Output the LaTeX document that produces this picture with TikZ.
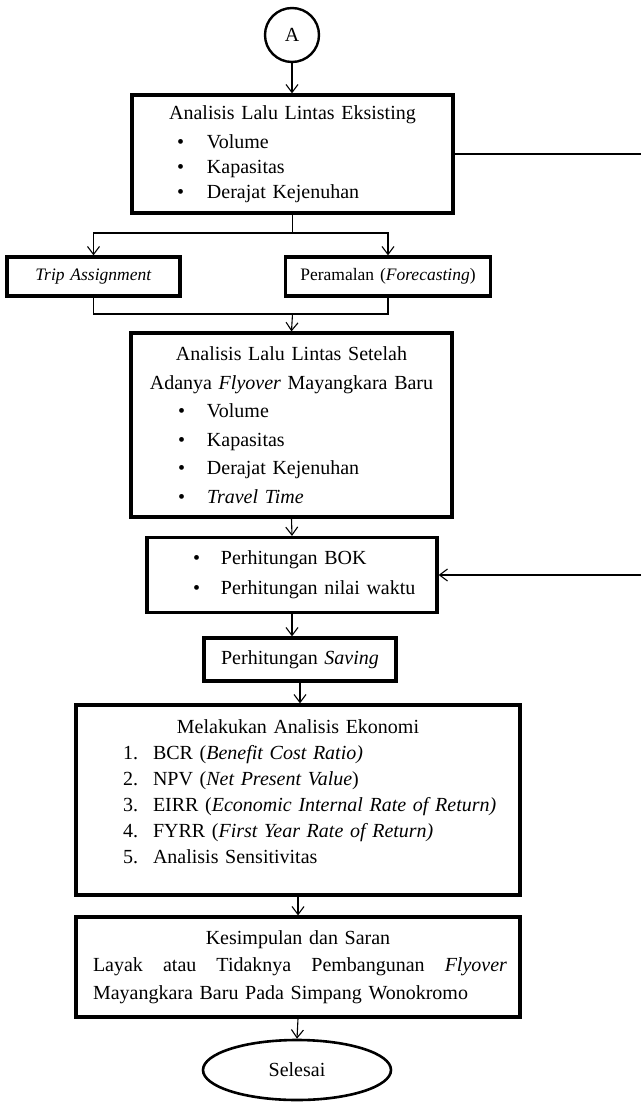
\documentclass[tikz,border=0pt]{standalone}
\usepackage{fontspec}
\setmainfont{Liberation Serif}
\usetikzlibrary{arrows.meta,shapes.geometric}
\newcommand{\bline}[3]{\makebox[\hsize][l]{\hspace*{#1}\makebox[#2][l]{\textbullet}#3}}
\newcommand{\nline}[4]{\makebox[\hsize][l]{\hspace*{#1}\makebox[#2][l]{#3}#4}}
\tikzset{
  box/.style={draw, line width=3.2pt, inner sep=0pt, align=center, font=\fontsize{20}{26}\selectfont},
  arr/.style={-{Straight Barb[length=8pt,width=12pt]}, line width=1.1pt},
  ln/.style={line width=1.1pt},
}
\begin{document}
\begin{tikzpicture}[x=1pt,y=-1pt]
\useasboundingbox (0,0) rectangle (641,1102);
\node[draw, circle, line width=2.4pt, minimum size=54pt, inner sep=0pt, font=\fontsize{20}{24}\selectfont] (A) at (292,35) {A};
\node[box, text width=321pt, minimum height=118pt, font=\fontsize{20}{25}\selectfont] (b1) at (292.5,154) {Analisis Lalu Lintas Eksisting\\[4pt]
\bline{45pt}{30pt}{Volume}\\
\bline{45pt}{30pt}{Kapasitas}\\
\bline{45pt}{30pt}{Derajat Kejenuhan}};
\node[box, text width=173pt, minimum height=39pt, font=\fontsize{17.5}{21}\selectfont] (trip) at (93.5,276.5) {\textit{Trip Assignment}};
\node[box, text width=205pt, minimum height=39pt, font=\fontsize{17.5}{21}\selectfont] (peram) at (388,276.5) {Peramalan (\textit{Forecasting})};
\node[box, text width=321pt, minimum height=184pt, font=\fontsize{20}{28.5}\selectfont] (b3) at (291.5,425) {Analisis Lalu Lintas Setelah\\
Adanya \textit{Flyover} Mayangkara Baru\\
\bline{47pt}{29pt}{Volume}\\
\bline{47pt}{29pt}{Kapasitas}\\
\bline{47pt}{29pt}{Derajat Kejenuhan}\\
\bline{47pt}{29pt}{\textit{Travel Time}}};
\node[box, text width=290pt, minimum height=75pt, font=\fontsize{20}{30}\selectfont] (b4) at (292,575) {\bline{46pt}{28pt}{Perhitungan BOK}\\
\bline{46pt}{28pt}{Perhitungan nilai waktu}};
\node[box, text width=192pt, minimum height=43pt] (b5) at (300,659.5) {Perhitungan \textit{Saving}};
\node[box, text width=444pt, minimum height=190pt, font=\fontsize{20}{26}\selectfont] (b6) at (298,800) {Melakukan Analisis Ekonomi\\
\nline{47pt}{30pt}{1.}{BCR (\textit{Benefit Cost Ratio)}}\\
\nline{47pt}{30pt}{2.}{NPV (\textit{Net Present Value})}\\
\nline{47pt}{30pt}{3.}{EIRR (\textit{Economic Internal Rate of Return)}}\\
\nline{47pt}{30pt}{4.}{FYRR (\textit{First Year Rate of Return)}}\\
\nline{47pt}{30pt}{5.}{Analisis Sensitivitas}\\[-10pt]\mbox{}};
\node[box, text width=444pt, minimum height=100pt, font=\fontsize{20}{27.5}\selectfont] (b7) at (298,967) {Kesimpulan dan Saran\\
\makebox[\hsize][l]{\hspace*{17pt}\hbox to 414pt{Layak\hfill atau\hfill Tidaknya\hfill Pembangunan\hfill\textit{Flyover}}}\\
\makebox[\hsize][l]{\hspace*{17pt}Mayangkara Baru Pada Simpang Wonokromo}};
\node[draw, ellipse, line width=2.6pt, minimum width=188pt, minimum height=60pt, inner sep=0pt, font=\fontsize{20}{24}\selectfont] (end) at (297,1070) {Selesai};
\coordinate (j1) at (292.5,233);
\coordinate (j2) at (292.5,314);
\coordinate (r) at (641,0);
\draw[arr] (A.south) -- (A.south |- b1.north);
\draw[ln] (b1.south) -- (j1);
\draw[arr] (j1) -| (trip.north);
\draw[arr] (j1) -| (peram.north);
\draw[ln] (trip.south) |- (j2);
\draw[ln] (peram.south) |- (j2);
\draw[arr] (j2) -- (b3.north);
\draw[ln] (b1.east) -- (b1.east -| r);
\draw[arr] (b4.east -| r) -- (b4.east);
\draw[arr] (b3.south) -- (b4.north);
\draw[arr] (b4.south) -- (b4.south |- b5.north);
\draw[arr] (b5.south) -- (b5.south |- b6.north);
\draw[arr] (b6.south) -- (b7.north);
\draw[arr] (b7.south) -- (end.north);
\end{tikzpicture}
\end{document}
